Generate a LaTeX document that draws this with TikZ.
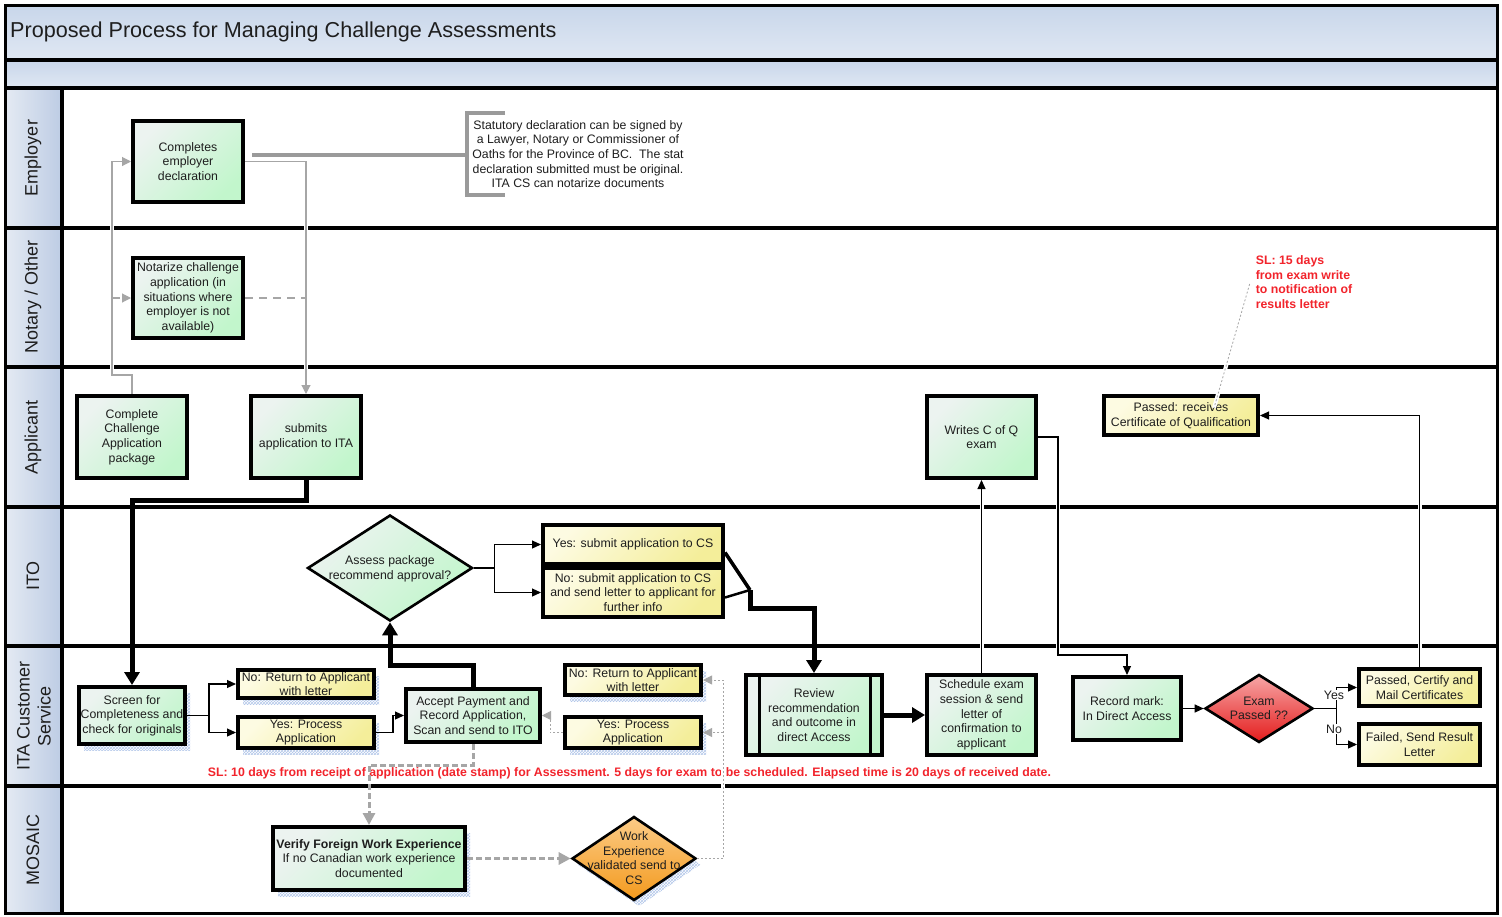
\documentclass[tikz,border=0pt]{standalone}
\usepackage{fontspec}
\setmainfont{Liberation Sans}
\usetikzlibrary{arrows.meta,calc,shapes.geometric,patterns,shadows}

\definecolor{bandtop}{HTML}{C8D6EA}
\definecolor{bandbot}{HTML}{E0E8F3}
\definecolor{lanelt}{HTML}{E4EAF3}
\definecolor{lanedk}{HTML}{BDCCE4}
\definecolor{greenlt}{HTML}{ECF3F0}
\definecolor{greendk}{HTML}{C2F6CC}
\definecolor{yellowlt}{HTML}{FDFBE2}
\definecolor{yellowdk}{HTML}{F4EE9A}
\definecolor{redlt}{HTML}{F7A6A6}
\definecolor{reddk}{HTML}{E41C1C}
\definecolor{orangelt}{HTML}{FCCB86}
\definecolor{orangedk}{HTML}{F39A1E}
\definecolor{linkgray}{HTML}{A6A6A6}
\definecolor{notegray}{HTML}{9A9A9A}
\definecolor{slred}{HTML}{F2242C}
\definecolor{hatchblue}{HTML}{B3C7EA}
\definecolor{inktext}{HTML}{1E1E1E}

\newcommand{\bxfont}{\fontsize{12.3}{14.6}\selectfont}
\newcommand{\lanefont}{\fontsize{18}{21}\selectfont}
% text of a decision shape, taking no room so the shape keeps its set size
\newcommand{\dtext}[1]{\makebox[0pt]{\smash{\raisebox{-4pt}{\begin{tabular}[c]{@{}c@{}}#1\end{tabular}}}}}

\begin{document}
\begin{tikzpicture}[x=1pt,y=-1pt,
  every node/.style={text=inktext},
  procbox/.style={rectangle, draw=black, line width=4pt, inner sep=0pt, align=center, font=\bxfont},
  gbox/.style={procbox, top color=greenlt, bottom color=greendk, shading angle=45},
  ybox/.style={procbox, top color=yellowlt, bottom color=yellowdk, shading angle=45},
  decision/.style={diamond, draw=black, line width=2.6pt, inner sep=0pt, font=\bxfont},
  hatched/.style={general shadow={shadow xshift=5pt, shadow yshift=-6pt, draw=none, pattern=crosshatch, pattern color=hatchblue}},
  laneline/.style={line width=4pt, draw=black},
  gapped/.style={preaction={draw=white, line width=4pt, arrows=-, solid}},
  conn/.style={draw=black, line width=1.1pt, -{Triangle[length=9pt,width=8pt]}},
  heavy/.style={draw=black, line width=5pt, -{Triangle[length=13pt,width=15pt]}},
  grayconn/.style={draw=linkgray, line width=1.1pt, -{Triangle[length=9pt,width=9pt]}},
  graydashed/.style={grayconn, dash pattern=on 8pt off 6pt},
  grayheavy/.style={draw=linkgray, line width=3pt, dash pattern=on 6pt off 3pt, -{Triangle[length=12pt,width=12pt]}},
  graydotted/.style={grayconn, line width=0.8pt, dash pattern=on 2pt off 2pt},
  lanelabel/.style={rotate=90, font=\lanefont, align=center, inner sep=0pt},
  slnote/.style={text=slred, font=\bfseries\bxfont, inner sep=0pt}
]
\useasboundingbox (0,0) rectangle (1502,916);
\fill[white] (0,0) rectangle (1502,916);

% ---- header bands ----
\shade[top color=bandtop, bottom color=bandbot] (5,5) rectangle (1497,60);
\shade[top color=bandtop, bottom color=bandbot] (5,60) rectangle (1497,88);
\node[anchor=west, font=\fontsize{21.6}{25}\selectfont, inner sep=0pt] (title) at (10,32)
  {Proposed Process for Managing Challenge Assessments};

% ---- lane label column ----
\foreach \ya/\yb in {88/228,228/367,367/507,507/646,646/786,786/913}
  \shade[left color=lanelt, right color=lanedk] (5,\ya) rectangle (62,\yb);

% ---- lane rules and frame ----
\foreach \yy in {60,88,228,367,507,646,786}
  \draw[laneline] (5,\yy) -- (1497,\yy);
\draw[laneline] (62,88) -- (62,913);
\draw[line width=3pt] (5,5) rectangle (1497,913);

\node[lanelabel] (Lemp) at (33,158) {Employer};
\node[lanelabel] (Lnot) at (33,297) {Notary / Other};
\node[lanelabel] (Lapp) at (33,437) {Applicant};
\node[lanelabel] (Lito) at (33,576) {ITO};
\node[lanelabel] (Lcs)  at (34,716) {ITA Customer\\Service};
\node[lanelabel] (Lmos) at (33,850) {MOSAIC};

% ---- Employer ----
\node[gbox, minimum width=110pt, minimum height=81pt] (E1) at (188,161.5)
  {Completes\\employer\\declaration};
\node[font=\bxfont, align=center, inner sep=0pt] (note) at (578,154)
  {Statutory declaration can be signed by\\a Lawyer, Notary or Commissioner of\\Oaths for the Province of BC.\ \ The stat\\declaration submitted must be original.\\ITA CS can notarize documents};
\draw[notegray, line width=4pt] (505,113) -- (467,113) -- (467,195) -- (505,195);
\coordinate (bracket) at (467,155);

% ---- Notary / Other ----
\node[gbox, minimum width=110pt, minimum height=80pt] (N1) at (188,298)
  {Notarize challenge\\application (in\\situations where\\employer is not\\available)};

% ---- Applicant ----
\node[gbox, minimum width=110pt, minimum height=82pt] (A1) at (132,437)
  {Complete\\Challenge\\Application\\package};
\node[gbox, minimum width=110pt, minimum height=82pt] (A2) at (306,437)
  {submits\\application to ITA};
\node[gbox, minimum width=109pt, minimum height=82pt] (A3) at (981.5,437)
  {Writes C of Q\\exam};
\node[ybox, minimum width=154pt, minimum height=39pt] (A4) at (1181,415.5)
  {Passed: receives\\Certificate of Qualification};
\node[slnote, align=left] (sl15) at (1304,282)
  {SL: 15 days\\from exam write\\to notification of\\results letter};

% ---- ITO ----
\node[decision, minimum width=165pt, minimum height=106pt, top color=greenlt, bottom color=greendk, shading angle=45] (D1) at (390,568)
  {\dtext{Assess package\\recommend approval?}};
\node[ybox, minimum width=180pt, minimum height=39pt] (Y1) at (633,544.5)
  {Yes: submit application to CS};
\node[ybox, minimum width=180pt, minimum height=49pt] (Y2) at (633,592.5)
  {No: submit application to CS\\and send letter to applicant for\\further info};
\coordinate (ymerge) at (750,590);

% ---- ITA Customer Service ----
\node[gbox, hatched, minimum width=106pt, minimum height=57pt] (C1) at (132,715.5)
  {Screen for\\Completeness and\\check for originals};
\node[ybox, hatched, minimum width=136pt, minimum height=28pt] (C2) at (306,684)
  {No: Return to Applicant\\with letter};
\node[ybox, hatched, minimum width=136pt, minimum height=31pt] (C3) at (306,732.5)
  {Yes: Process\\Application};
\node[gbox, minimum width=134pt, minimum height=53pt] (C4) at (473,715.5)
  {Accept Payment and\\Record Application,\\Scan and send to ITO};
\node[ybox, hatched, minimum width=136pt, minimum height=30pt] (C5) at (633,680)
  {No: Return to Applicant\\with letter};
\node[ybox, hatched, minimum width=136pt, minimum height=31pt] (C6) at (633,732.5)
  {Yes: Process\\Application};
\node[gbox, minimum width=136pt, minimum height=80pt] (C7) at (814,715)
  {Review\\recommendation\\and outcome in\\direct Access};
\draw[line width=3pt] ($(C7.north west)+(15,2)$) -- ($(C7.south west)+(15,-2)$);
\draw[line width=3pt] ($(C7.north east)+(-14,2)$) -- ($(C7.south east)+(-14,-2)$);
\node[gbox, minimum width=109pt, minimum height=80pt] (C8) at (981.5,715)
  {Schedule exam\\session \& send\\letter of\\confirmation to\\applicant};
\node[gbox, minimum width=108pt, minimum height=63pt] (C9) at (1127,708.5)
  {Record mark:\\In Direct Access};
\node[decision, minimum width=108pt, minimum height=68pt, top color=redlt, bottom color=reddk] (D2) at (1259,708.5)
  {\dtext{Exam\\Passed ??}};
\node[ybox, minimum width=121pt, minimum height=37pt] (C10) at (1419.5,687.5)
  {Passed, Certify and\\Mail Certificates};
\node[ybox, minimum width=121pt, minimum height=41pt] (C11) at (1419.5,744.5)
  {Failed, Send Result\\Letter};
\node[slnote] (sl10) at (629.5,773)
  {SL: 10 days from receipt of application (date stamp) for Assessment. 5 days for exam to be scheduled. Elapsed time is 20 days of received date.};

% ---- MOSAIC ----
\node[gbox, hatched, minimum width=192pt, minimum height=63pt] (M1) at (369,858.5)
  {{\bfseries Verify Foreign Work Experience}\\If no Canadian work experience\\documented};
\node[decision, hatched, minimum width=124pt, minimum height=84pt, top color=orangelt, bottom color=orangedk] (M2) at (634,858.5)
  {\dtext{Work\\Experience\\validated send to\\CS}};

% ---- connectors: employer / notary / applicant ----
\draw[grayconn, gapped] (A1.north) -- ++(0,-19) -- ++(-20,0) |- (E1.west);
\draw[graydashed] (112,0 |- N1.west) -- (N1.west);
\draw[grayconn, gapped] (E1.east) -| (A2.north);
\draw[graydashed, arrows=-] (N1.east) -- (N1.east -| A2.north);
\draw[notegray, line width=4pt] ($(E1.east)+(7,-6.5)$) -- (bracket);
\draw[heavy] (A2.south) -- ++(0,20) -| (C1.north);

% ---- connectors: ITO ----
\draw[conn] (D1.east) -- ++(21,0) |- (Y1.west);
\draw[conn] (D1.east) -- ++(21,0) |- (Y2.west);
\draw[line width=3.5pt] ($(Y1.east)+(0,8)$) -- (ymerge);
\draw[line width=2.5pt] ($(Y2.east)+(0,5)$) -- (ymerge);
\draw[heavy] (ymerge) -- ++(0,18) -| (C7.north);

% ---- connectors: customer service ----
\draw[conn] (C1.east) -- ++(22,0) |- (C2.west);
\draw[conn] (C1.east) -- ++(22,0) |- (C3.west);
\draw[conn] (C3.east) -- ++(17,0) |- (C4.west);
\draw[heavy] (C4.north) -- ++(0,-22) -| (D1.south);
\draw[grayheavy] (C4.south) -- ++(0,21) -| (M1.north);
\draw[grayheavy] (M1.east) -- (M2.west);
\coordinate (dotx) at ($(M2.east)+(26,0)$);
\draw[graydotted, gapped] (M2.east) -- (dotx) |- (C5.east);
\draw[graydotted] (dotx |- C6.east) -- (C6.east);
\draw[graydotted] (C6.west) -- ++(-13,0) |- (C4.east);
\draw[heavy] (C7.east) -- (C8.west);
\draw[conn, gapped] (C8.north) -- (A3.south);
\draw[conn, gapped] (A3.east) -- ++(20,0) |- ($(C9.north)+(0,-20)$) -- (C9.north);
\draw[conn] (C9.east) -- (C9.east -| D2.west);
\draw[conn] (D2.east) -- ++(22,0) |- (C10.west);
\draw[conn] (D2.east) -- ++(22,0) |- (C11.west);
\node[font=\bxfont, fill=white, inner sep=1pt] (yes) at (1334,695) {Yes};
\node[font=\bxfont, fill=white, inner sep=1pt] (no) at (1334,729) {No};
\draw[conn, gapped] (C10.north) |- (A4.east);
\draw[linkgray, line width=0.8pt, dash pattern=on 2pt off 2pt, gapped] ($(sl15.west)+(-6,2)$) -- ($(A4.north)+(33,14)$);
\end{tikzpicture}
\end{document}
